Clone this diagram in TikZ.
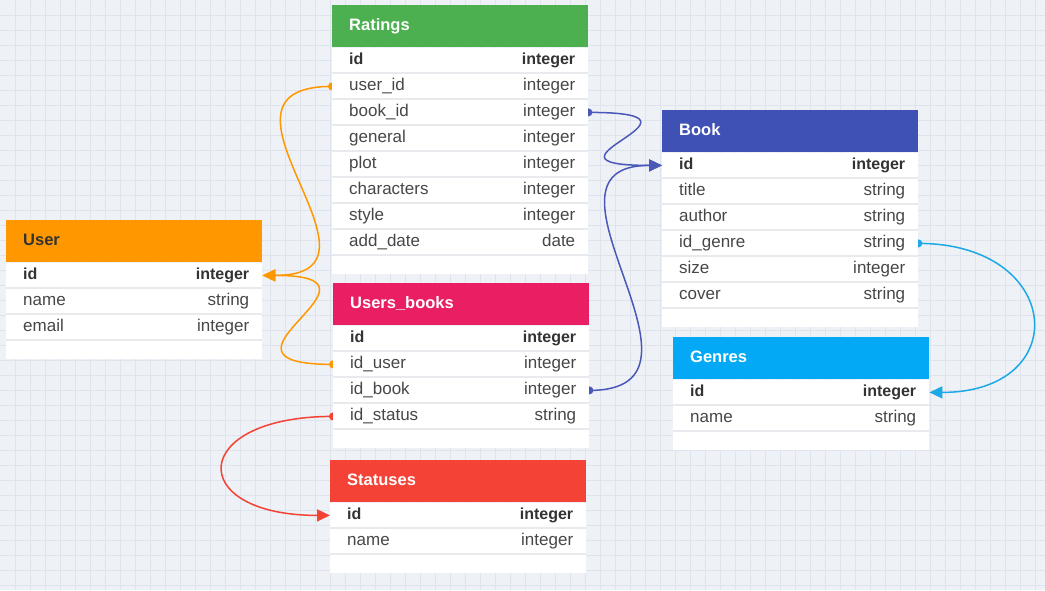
\documentclass[tikz,border=0pt]{standalone}
\usepackage{fontspec}
\setmainfont{Liberation Sans}
\usetikzlibrary{arrows.meta,positioning}
\pgfdeclarelayer{bg}
\pgfdeclarelayer{edges}
\pgfsetlayers{bg,edges,main}
\definecolor{bgc}{HTML}{EEF1F5}
\definecolor{gridc}{HTML}{DEE3EE}
\definecolor{sepc}{HTML}{E8EAEE}
\definecolor{txt}{HTML}{474747}
\definecolor{txtb}{HTML}{333333}
\definecolor{cUser}{HTML}{FF9800}
\definecolor{cRat}{HTML}{4CAF50}
\definecolor{cUB}{HTML}{E91E63}
\definecolor{cStat}{HTML}{F44336}
\definecolor{cBook}{HTML}{3F51B5}
\definecolor{cGen}{HTML}{03A9F4}
\definecolor{lBook}{HTML}{4A58B8}
\definecolor{lGen}{HTML}{1DA8E6}
\newcommand\erfield[2]{\hbox to 256pt{\hskip17pt #1\hfill #2\hskip13pt}}
\newcommand\ertitle[1]{\hbox to 256pt{\hskip17pt #1\hfill}}
\tikzset{
  hdr/.style={anchor=north west, minimum width=256pt, minimum height=42pt,
    inner sep=0pt, fill=#1, text=white, font=\fontsize{16.5}{16.5}\selectfont\bfseries,
    text height=12pt, text depth=3pt},
  row/.style={anchor=north, minimum width=256pt, minimum height=25.6pt,
    inner sep=0pt, fill=white, text=txt, font=\fontsize{17}{17}\selectfont,
    text height=12.5pt, text depth=3.5pt,
    path picture={\draw[sepc, line width=2.4pt] (path picture bounding box.south west) -- (path picture bounding box.south east);}},
  keyrow/.style={row, text=txtb, font=\fontsize{16}{16}\selectfont\bfseries},
  foot/.style={anchor=north, minimum width=256pt, minimum height=18pt, inner sep=0pt, fill=white},
  link/.style={line width=1.5pt, -{Triangle[length=13pt,width=12pt]}},
  gridline/.style={gridc, line width=0.7pt},
}
\begin{document}
\begin{tikzpicture}[x=1pt,y=-1pt]
\useasboundingbox (0,0) rectangle (1045,590);
\begin{pgfonlayer}{bg}
\fill[bgc] (0,0) rectangle (1045,590);
\foreach \i in {15,30,...,1040} \draw[gridline] (\i,0) -- (\i,590);
\foreach \j in {15,30,...,585} \draw[gridline] (0,\j) -- (1045,\j);
\end{pgfonlayer}

% User
\node[hdr=cUser, text=txtb] (h-user) at (6,220) {\ertitle{User}};
\node[keyrow, below=0pt of h-user] (u-id) {\erfield{id}{integer}};
\node[row, below=0pt of u-id] (u-name) {\erfield{name}{string}};
\node[row, below=0pt of u-name] (u-email) {\erfield{email}{integer}};
\node[foot, below=0pt of u-email] (u-foot) {};

% Ratings
\node[hdr=cRat] (h-rat) at (332,5) {\ertitle{Ratings}};
\node[keyrow, below=0pt of h-rat] (r-id) {\erfield{id}{integer}};
\node[row, below=0pt of r-id] (r-user_id) {\erfield{user\_id}{integer}};
\node[row, below=0pt of r-user_id] (r-book_id) {\erfield{book\_id}{integer}};
\node[row, below=0pt of r-book_id] (r-general) {\erfield{general}{integer}};
\node[row, below=0pt of r-general] (r-plot) {\erfield{plot}{integer}};
\node[row, below=0pt of r-plot] (r-characters) {\erfield{characters}{integer}};
\node[row, below=0pt of r-characters] (r-style) {\erfield{style}{integer}};
\node[row, below=0pt of r-style] (r-add_date) {\erfield{add\_date}{date}};
\node[foot, below=0pt of r-add_date] (r-foot) {};

% Users_books
\node[hdr=cUB] (h-ub) at (333,283) {\ertitle{Users\_books}};
\node[keyrow, below=0pt of h-ub] (ub-id) {\erfield{id}{integer}};
\node[row, below=0pt of ub-id] (ub-id_user) {\erfield{id\_user}{integer}};
\node[row, below=0pt of ub-id_user] (ub-id_book) {\erfield{id\_book}{integer}};
\node[row, below=0pt of ub-id_book] (ub-id_status) {\erfield{id\_status}{string}};
\node[foot, below=0pt of ub-id_status] (ub-foot) {};

% Statuses
\node[hdr=cStat] (h-stat) at (330,460) {\ertitle{Statuses}};
\node[keyrow, below=0pt of h-stat] (s-id) {\erfield{id}{integer}};
\node[row, below=0pt of s-id] (s-name) {\erfield{name}{integer}};
\node[foot, below=0pt of s-name] (s-foot) {};

% Book
\node[hdr=cBook] (h-book) at (662,110) {\ertitle{Book}};
\node[keyrow, below=0pt of h-book] (b-id) {\erfield{id}{integer}};
\node[row, below=0pt of b-id] (b-title) {\erfield{title}{string}};
\node[row, below=0pt of b-title] (b-author) {\erfield{author}{string}};
\node[row, below=0pt of b-author] (b-id_genre) {\erfield{id\_genre}{string}};
\node[row, below=0pt of b-id_genre] (b-size) {\erfield{size}{integer}};
\node[row, below=0pt of b-size] (b-cover) {\erfield{cover}{string}};
\node[foot, below=0pt of b-cover] (b-foot) {};

% Genres
\node[hdr=cGen] (h-gen) at (673,337) {\ertitle{Genres}};
\node[keyrow, below=0pt of h-gen] (g-id) {\erfield{id}{integer}};
\node[row, below=0pt of g-id] (g-name) {\erfield{name}{string}};
\node[foot, below=0pt of g-name] (g-foot) {};

\begin{pgfonlayer}{edges}
\draw[link, cUser] (r-user_id.west) .. controls +(-145,0) and +(145,0) .. (u-id.east);
\fill[cUser] (r-user_id.west) circle (4pt);
\draw[link, cUser] (ub-id_user.west) .. controls +(-145,0) and +(145,0) .. (u-id.east);
\fill[cUser] (ub-id_user.west) circle (4pt);
\draw[link, lBook] (r-book_id.east) .. controls +(145,0) and +(-145,0) .. (b-id.west);
\fill[lBook] (r-book_id.east) circle (4pt);
\draw[link, lBook] (ub-id_book.east) .. controls +(145,0) and +(-145,0) .. (b-id.west);
\fill[lBook] (ub-id_book.east) circle (4pt);
\draw[link, cStat] (ub-id_status.west) .. controls +(-145,0) and +(-145,0) .. (s-id.west);
\fill[cStat] (ub-id_status.west) circle (4pt);
\draw[link, lGen] (b-id_genre.east) .. controls +(145,0) and +(145,0) .. (g-id.east);
\fill[lGen] (b-id_genre.east) circle (4pt);
\end{pgfonlayer}
\end{tikzpicture}
\end{document}
